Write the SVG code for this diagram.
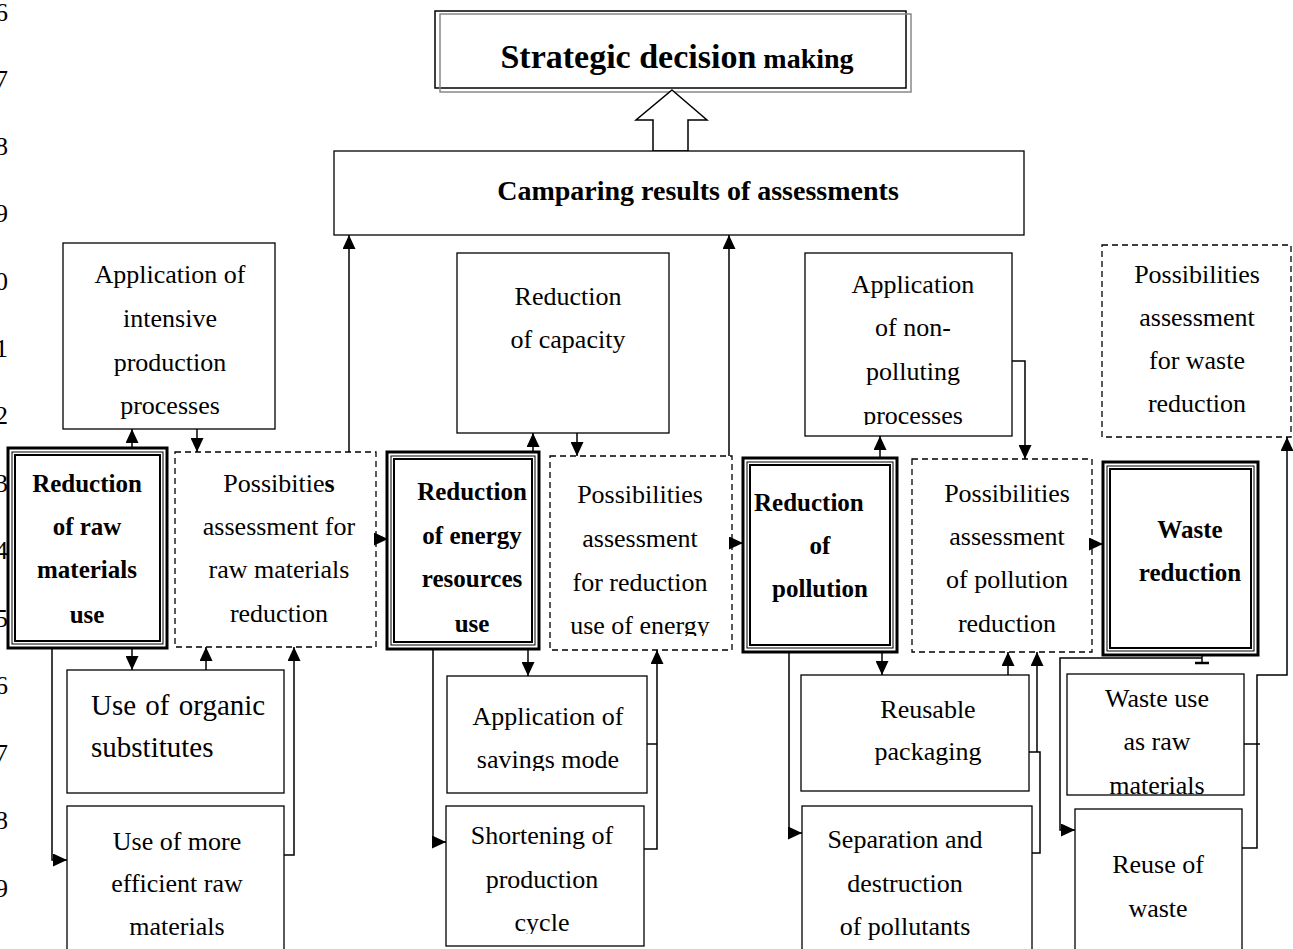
<svg xmlns="http://www.w3.org/2000/svg" width="1293" height="949" viewBox="0 0 1293 949">
<style>
.box{fill:#fff;stroke:#000;stroke-width:1.3}
.dash{fill:#fff;stroke:#000;stroke-width:1.3;stroke-dasharray:6 4}
.o1{fill:#fff;stroke:#000;stroke-width:3}
.o2{fill:none;stroke:#000;stroke-width:1}
.o3{fill:none;stroke:#000;stroke-width:2}
.t{font-family:"Liberation Serif","Times New Roman",serif;font-size:26px;text-anchor:middle;fill:#000}
.b{font-weight:bold;font-size:25px}
.s{text-anchor:start}
.ln{font-family:"Liberation Serif","Times New Roman",serif;font-size:26px;text-anchor:end;fill:#000}
.cn path,.cn line{fill:none;stroke:#000;stroke-width:1.5}
.ar{marker-end:url(#ah)}
</style>
<defs>
<marker id="ah" markerUnits="userSpaceOnUse" markerWidth="14" markerHeight="13" viewBox="0 0 14 13" refX="14" refY="6.5" orient="auto">
<path d="M0,0 L14,6.5 L0,13 z" fill="#000"/>
</marker>
<clipPath id="cEnergy"><rect x="550" y="456" width="182" height="180"/></clipPath>
<clipPath id="cNonPol"><rect x="805" y="253" width="207" height="172"/></clipPath>
<clipPath id="cSav"><rect x="447" y="676" width="200" height="95"/></clipPath>
<clipPath id="cShort"><rect x="446" y="806" width="198" height="128"/></clipPath>
<clipPath id="cWUse"><rect x="1067" y="674" width="177" height="121"/></clipPath>
</defs>
<rect width="1293" height="949" fill="#fff"/>

<g id="line-numbers">
<text class="ln" x="8" y="21">6</text>
<text class="ln" x="8" y="88">7</text>
<text class="ln" x="8" y="155">8</text>
<text class="ln" x="8" y="222">9</text>
<text class="ln" x="8" y="290">0</text>
<text class="ln" x="8" y="357">1</text>
<text class="ln" x="8" y="424">2</text>
<text class="ln" x="8" y="492">3</text>
<text class="ln" x="8" y="559">4</text>
<text class="ln" x="8" y="627">5</text>
<text class="ln" x="8" y="694">6</text>
<text class="ln" x="8" y="762">7</text>
<text class="ln" x="8" y="829">8</text>
<text class="ln" x="8" y="897">9</text>
</g>

<g id="strategic">
<rect x="435" y="11" width="471" height="77" fill="#fff" stroke="#000" stroke-width="1.5"/>
<rect x="440" y="14" width="471" height="78" fill="none" stroke="#888" stroke-width="1.5"/>
<text class="t" x="677" y="68" font-weight="bold"><tspan font-size="34">Strategic decision</tspan><tspan font-size="28"> making</tspan></text>
</g>

<g id="big-arrow">
<polygon points="672,90 707,120 688,120 688,151 653,151 653,120 636,120" fill="#fff" stroke="#000" stroke-width="1.5"/>
</g>

<g id="comparing">
<rect class="box" x="334" y="151" width="690" height="84"/>
<text class="t b" x="698" y="200" style="font-size:28px">Camparing results of assessments</text>
</g>

<g id="app-intensive">
<rect class="box" x="63" y="243" width="212" height="186"/>
<text class="t" x="170" y="283">Application of</text>
<text class="t" x="170" y="327">intensive</text>
<text class="t" x="170" y="371">production</text>
<text class="t" x="170" y="414">processes</text>
</g>

<g id="red-raw">
<rect class="o1" x="8" y="448" width="159" height="200"/>
<rect class="o2" x="12" y="452" width="151" height="192"/>
<rect class="o3" x="15" y="455" width="145" height="186"/>
<text class="t b" x="87" y="492">Reduction</text>
<text class="t b" x="87" y="535">of raw</text>
<text class="t b" x="87" y="578">materials</text>
<text class="t b" x="87" y="623">use</text>
</g>

<g id="poss-raw">
<rect class="dash" x="175" y="452" width="201" height="195"/>
<text class="t" x="279" y="492">Possibitie<tspan font-weight="bold">s</tspan></text>
<text class="t" x="279" y="535">assessment for</text>
<text class="t" x="279" y="578">raw materials</text>
<text class="t" x="279" y="622">reduction</text>
</g>

<g id="organic">
<rect class="box" x="67" y="670" width="217" height="123"/>
<text class="t s" x="91" y="715" style="font-size:29px" word-spacing="2">Use of organic</text>
<text class="t s" x="91" y="757" style="font-size:29px">substitutes</text>
</g>

<g id="efficient">
<rect class="box" x="67" y="806" width="217" height="160"/>
<text class="t" x="177" y="850">Use of more</text>
<text class="t" x="177" y="892">efficient raw</text>
<text class="t" x="177" y="935">materials</text>
</g>

<g id="capacity">
<rect class="box" x="457" y="253" width="212" height="180"/>
<text class="t" x="568" y="305">Reduction</text>
<text class="t" x="568" y="348">of capacity</text>
</g>

<g id="red-energy">
<rect class="o1" x="387" y="452" width="152" height="197"/>
<rect class="o2" x="391" y="456" width="144" height="189"/>
<rect class="o3" x="394" y="459" width="138" height="183"/>
<text class="t b" x="472" y="500">Reduction</text>
<text class="t b" x="472" y="544">of energy</text>
<text class="t b" x="472" y="587">resources</text>
<text class="t b" x="472" y="632">use</text>
</g>

<g id="poss-energy">
<rect class="dash" x="550" y="456" width="182" height="194"/>
<g clip-path="url(#cEnergy)">
<text class="t" x="640" y="503">Possibilities</text>
<text class="t" x="640" y="547">assessment</text>
<text class="t" x="640" y="591">for reduction</text>
<text class="t" x="640" y="634">use of energy</text>
</g>
</g>

<g id="savings">
<rect class="box" x="447" y="676" width="200" height="117"/>
<g clip-path="url(#cSav)">
<text class="t" x="548" y="725">Application of</text>
<text class="t" x="548" y="768">savings mode</text>
</g>
</g>

<g id="shortening">
<rect class="box" x="446" y="806" width="198" height="140"/>
<g clip-path="url(#cShort)">
<text class="t" x="542" y="844">Shortening of</text>
<text class="t" x="542" y="888">production</text>
<text class="t" x="542" y="931">cycle</text>
</g>
</g>

<g id="non-polluting">
<rect class="box" x="805" y="253" width="207" height="183"/>
<g clip-path="url(#cNonPol)">
<text class="t" x="913" y="293">Application</text>
<text class="t" x="913" y="336">of non-</text>
<text class="t" x="913" y="380">polluting</text>
<text class="t" x="913" y="424">processes</text>
</g>
</g>

<g id="red-pollution">
<rect class="o1" x="743" y="458" width="154" height="194"/>
<rect class="o2" x="747" y="462" width="146" height="186"/>
<rect class="o3" x="750" y="465" width="140" height="180"/>
<text class="t b s" x="754" y="511">Reduction</text>
<text class="t b" x="820" y="554">of</text>
<text class="t b" x="820" y="597">pollution</text>
</g>

<g id="poss-pollution">
<rect class="dash" x="912" y="459" width="180" height="193"/>
<text class="t" x="1007" y="502">Possibilities</text>
<text class="t" x="1007" y="545">assessment</text>
<text class="t" x="1007" y="588">of pollution</text>
<text class="t" x="1007" y="632">reduction</text>
</g>

<g id="reusable">
<rect class="box" x="801" y="675" width="228" height="116"/>
<text class="t" x="928" y="718">Reusable</text>
<text class="t" x="928" y="760">packaging</text>
</g>

<g id="separation">
<rect class="box" x="802" y="806" width="230" height="160"/>
<text class="t" x="905" y="848">Separation and</text>
<text class="t" x="905" y="892">destruction</text>
<text class="t" x="905" y="935">of pollutants</text>
</g>

<g id="poss-waste">
<rect class="dash" x="1102" y="245" width="189" height="192"/>
<text class="t" x="1197" y="283">Possibilities</text>
<text class="t" x="1197" y="326">assessment</text>
<text class="t" x="1197" y="369">for waste</text>
<text class="t" x="1197" y="412">reduction</text>
</g>

<g id="waste-red">
<rect class="o1" x="1103" y="462" width="155" height="193"/>
<rect class="o2" x="1107" y="466" width="147" height="185"/>
<rect class="o3" x="1110" y="469" width="141" height="179"/>
<text class="t b" x="1190" y="538">Waste</text>
<text class="t b" x="1190" y="581">reduction</text>
</g>

<g id="waste-use">
<rect class="box" x="1067" y="674" width="177" height="121"/>
<g clip-path="url(#cWUse)">
<text class="t" x="1157" y="707">Waste use</text>
<text class="t" x="1157" y="750">as raw</text>
<text class="t" x="1157" y="794">materials</text>
</g>
</g>

<g id="reuse">
<rect class="box" x="1075" y="809" width="167" height="160"/>
<text class="t" x="1158" y="873">Reuse of</text>
<text class="t" x="1158" y="917">waste</text>
</g>

<g id="connectors" class="cn">
<line class="ar" x1="132" y1="448" x2="132" y2="429"/>
<line class="ar" x1="197" y1="429" x2="197" y2="452"/>
<line class="ar" x1="349" y1="452" x2="349" y2="235"/>
<line class="ar" x1="374" y1="539" x2="388" y2="539"/>
<line class="ar" x1="132" y1="648" x2="132" y2="670"/>
<line class="ar" x1="206" y1="670" x2="206" y2="647"/>
<path class="ar" d="M284,855 H294 V647"/>
<path class="ar" d="M52,648 V860 H67"/>

<line class="ar" x1="533" y1="452" x2="533" y2="433"/>
<line class="ar" x1="577" y1="433" x2="577" y2="456"/>
<line class="ar" x1="729" y1="456" x2="729" y2="235"/>
<line class="ar" x1="730" y1="543" x2="743" y2="543"/>
<line class="ar" x1="528" y1="649" x2="528" y2="676"/>
<path class="ar" d="M433,649 V842 H446"/>
<path class="ar" d="M644,849 H657 V650"/>
<line x1="647" y1="744" x2="657" y2="744"/>

<line class="ar" x1="880" y1="458" x2="880" y2="436"/>
<path class="ar" d="M1012,361 H1025 V459"/>
<line class="ar" x1="1090" y1="544" x2="1103" y2="544"/>
<line class="ar" x1="882" y1="652" x2="882" y2="675"/>
<path class="ar" d="M789,652 V833 H802"/>
<line class="ar" x1="1008" y1="675" x2="1008" y2="652"/>
<path d="M1032,853 H1040 V752 H1029"/>
<line class="ar" x1="1037" y1="752" x2="1037" y2="652"/>

<line x1="1202" y1="655" x2="1202" y2="663"/>
<line x1="1195" y1="663" x2="1209" y2="663" style="stroke-width:2.5"/>
<path class="ar" d="M1202,658 H1060 V830 H1075"/>
<path class="ar" d="M1242,848 H1257 V675 H1287 V437"/>
<line x1="1244" y1="744" x2="1260" y2="744"/>
</g>
</svg>
